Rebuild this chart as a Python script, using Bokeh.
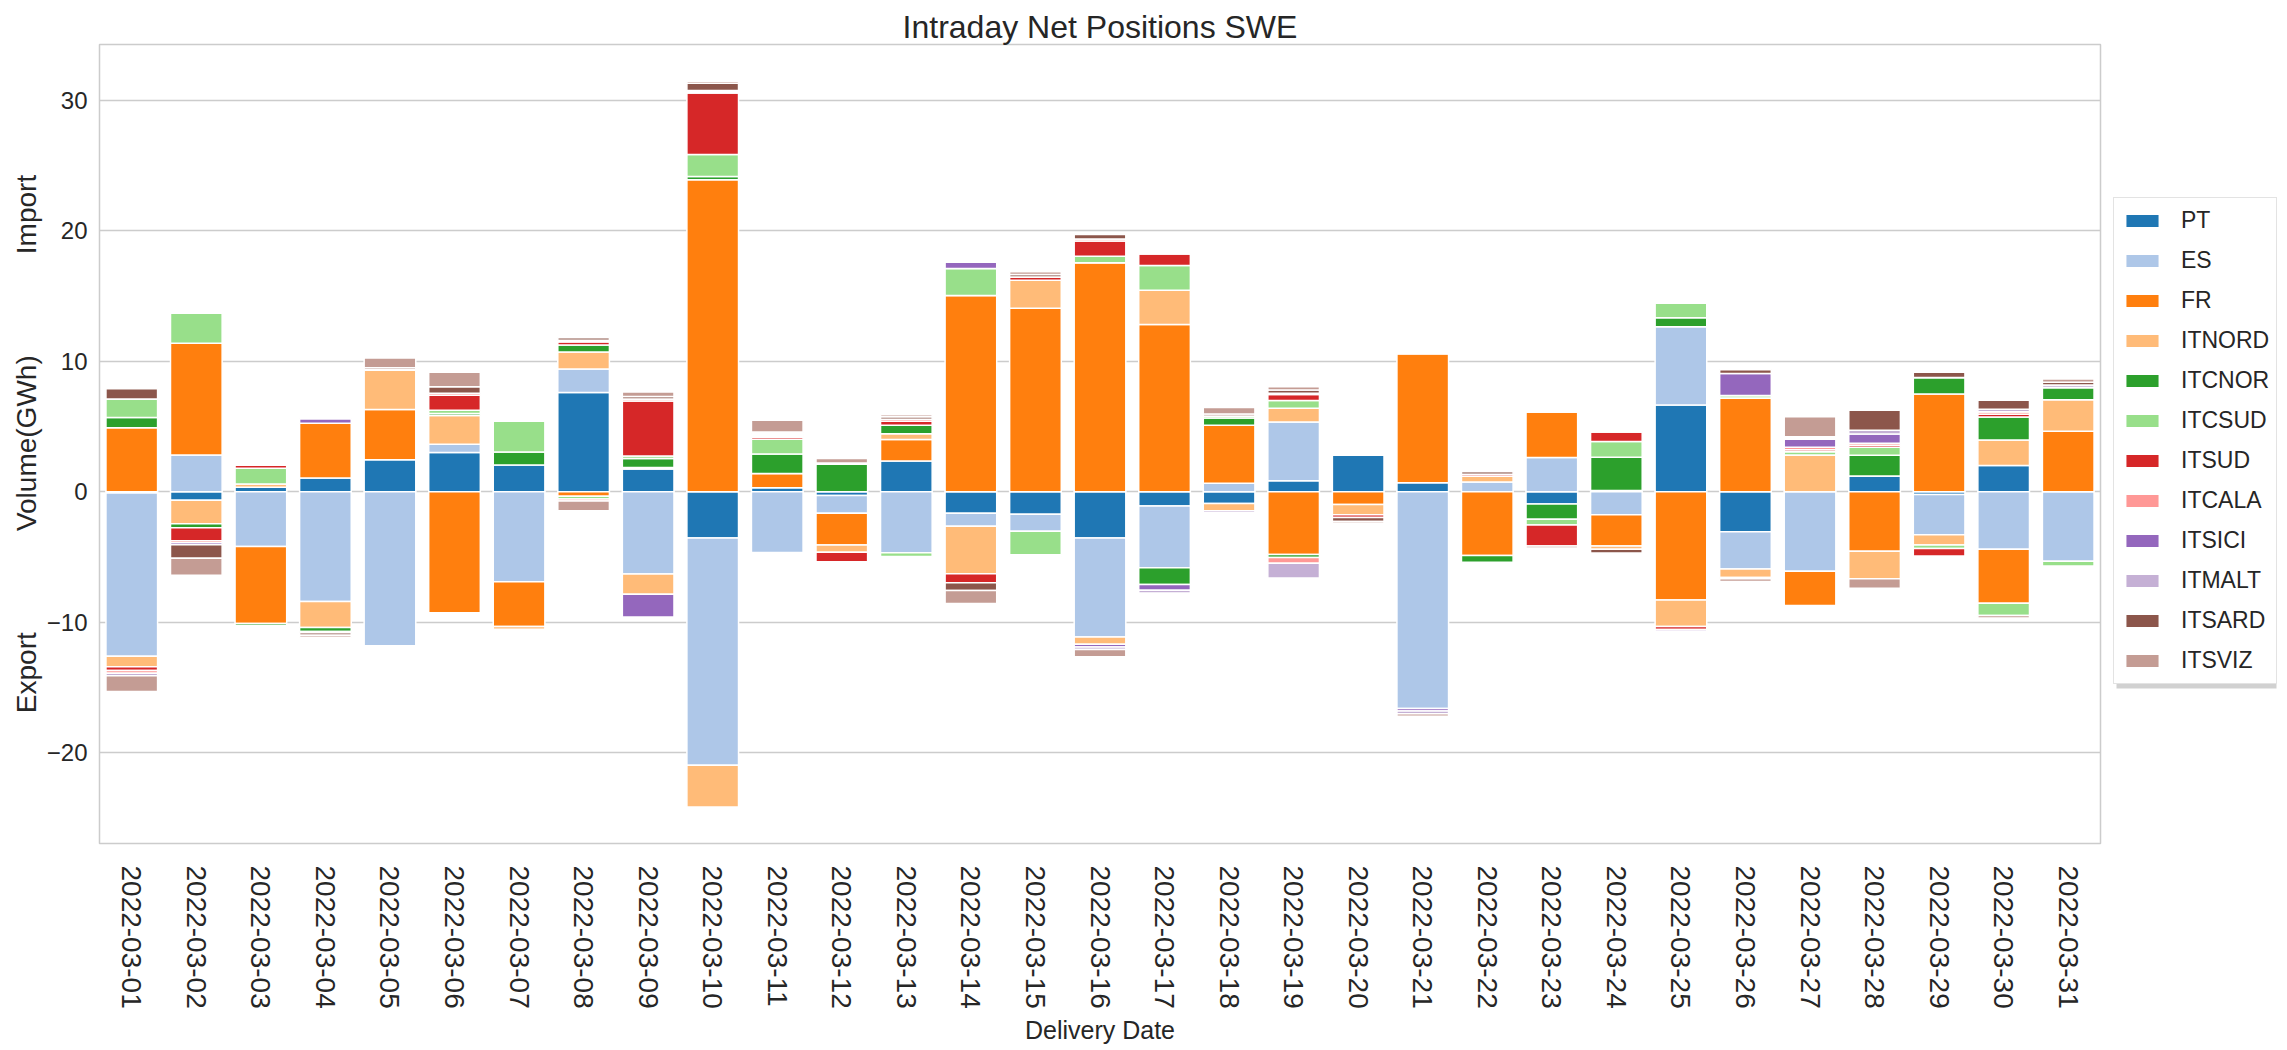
import numpy as np
from bokeh.plotting import figure
from bokeh.layouts import row
from bokeh.models import Legend, LegendItem, FixedTicker, Range1d, FactorRange, BoxAnnotation
from bokeh.embed import file_html
from bokeh.resources import INLINE

dates = ["2022-03-01", "2022-03-02", "2022-03-03", "2022-03-04", "2022-03-05", "2022-03-06",
         "2022-03-07", "2022-03-08", "2022-03-09", "2022-03-10", "2022-03-11", "2022-03-12",
         "2022-03-13", "2022-03-14", "2022-03-15", "2022-03-16", "2022-03-17", "2022-03-18",
         "2022-03-19", "2022-03-20", "2022-03-21", "2022-03-22", "2022-03-23", "2022-03-24",
         "2022-03-25", "2022-03-26", "2022-03-27", "2022-03-28", "2022-03-29", "2022-03-30",
         "2022-03-31"]

PT = [-0.1, -0.65, 0.35, 1.05, 2.45, 3.0, 2.05, 7.6, 1.75, -3.55, 0.3, -0.28, 2.35, -1.65, -1.73, -3.55,
      -1.1, -0.9, 0.85, 2.82, 0.7, 0, -0.93, 0.1, 6.65, -3.06, 0, 1.2, -0.2, 2.02, 0]
ES = [-12.5, 2.82, -4.2, -8.4, -11.8, 0.65, -6.9, 1.8, -6.3, -17.4, -4.65, -1.37, -4.68, -1.0, -1.29, -7.58,
      -4.72, 0.65, 4.5, 0, -16.6, 0.75, 2.62, -1.77, 6.0, -2.86, -6.09, 0, -3.1, -4.4, -5.32]
FR = [4.9, 8.55, -5.9, 4.2, 3.85, -9.27, -3.43, -0.35, 0.1, 23.9, 1.1, -2.42, 1.65, 15.04, 14.07, 17.54,
      12.82, 4.45, -4.8, -0.97, 9.9, -4.88, 3.51, -2.38, -8.3, 7.18, -2.62, -4.56, 7.5, -4.15, 4.64]
ITNORD = [-0.8, -1.8, 0.25, -2.0, 3.05, 2.2, -0.2, 1.3, -1.55, -3.2, 0, -0.56, 0.45, -3.63, 2.14, -0.56,
          2.62, -0.55, 1.05, -0.8, 0, 0.45, 0, -0.25, -2.02, -0.65, 2.82, -2.1, -0.77, 1.94, 2.42]
ITCNOR = [0.8, -0.3, -0.15, -0.3, 0, 0.15, 1.0, 0.55, 0.7, 0.25, 1.5, 2.1, 0.65, 0, 0, 0,
          -1.29, 0.55, -0.24, 0, 0, -0.52, -1.17, 2.55, 0.69, 0, 0, 1.6, 1.25, 1.77, 0.93]
ITCSUD = [1.4, 2.3, 1.2, -0.1, 0, 0.25, 2.38, -0.2, 0.2, 1.7, 1.13, 0.1, -0.28, 2.06, -1.81, 0.5,
          1.9, 0.15, 0.6, 0, 0, 0, -0.44, 1.2, 1.13, 0.2, 0.25, 0.62, -0.28, -0.93, -0.36]
ITSUD = [-0.3, -1.0, 0.25, 0, 0, 1.15, 0, 0.25, 4.2, 4.7, 0.15, -0.73, 0.3, -0.69, 0.24, 1.17,
         0.89, 0, 0.45, -0.2, 0, 0.15, -1.61, 0.75, -0.24, 0, 0.15, 0.15, -0.6, 0.2, 0]
ITCALA = [-0.2, -0.15, 0, 0, 0, 0.15, 0, -0.15, 0.15, 0.1, 0.1, 0, 0.15, 0, 0, 0.15,
          0, 0, -0.44, 0, 0, 0, 0, 0, 0, 0, 0.2, 0.15, 0, 0.2, 0]
ITSICI = [0, -0.15, 0, 0.35, 0, 0, 0, 0, -1.75, 0, 0.1, 0, 0, 0.48, 0, -0.2,
          -0.44, 0, 0.1, 0, -0.2, 0, 0, 0, -0.12, 1.69, 0.6, 0.7, 0, 0, 0]
ITMALT = [-0.2, 0, 0, 0, 0, 0, 0, 0.1, 0, 0.1, 0.1, 0, 0, 0, -0.12, -0.2,
          -0.2, -0.15, -1.13, 0, -0.2, 0, 0, 0, -0.12, -0.1, 0.1, 0.3, 0, 0.2, 0.2]
ITSARD = [0.8, -1.05, 0, -0.2, 0.15, 0.5, 0, 0.2, 0.2, 0.55, 0.1, 0, 0.2, -0.6, 0.2, 0.35,
          0, 0.15, 0.25, -0.3, 0, 0.2, 0, -0.3, 0, 0.28, 0.1, 1.53, 0.4, 0.69, 0.2]
ITSVIZ = [-1.2, -1.3, 0, -0.15, 0.75, 1.1, 0, -0.75, 0.35, 0.15, 0.9, 0.35, 0.15, -1.0, 0.2, -0.55,
          0, 0.5, 0.25, -0.15, -0.2, 0, -0.16, 0, 0, -0.2, 1.53, -0.73, -0.1, -0.2, 0.25]

series_names = ["PT", "ES", "FR", "ITNORD", "ITCNOR", "ITCSUD", "ITSUD", "ITCALA",
                "ITSICI", "ITMALT", "ITSARD", "ITSVIZ"]
series_values = [PT, ES, FR, ITNORD, ITCNOR, ITCSUD, ITSUD, ITCALA, ITSICI, ITMALT, ITSARD, ITSVIZ]
colors = ["#1f77b4", "#aec7e8", "#ff7f0e", "#ffbb78", "#2ca02c", "#98df8a", "#d62728", "#ff9896",
          "#9467bd", "#c5b0d5", "#8c564b", "#c49c94"]

y_ticks = [-20, -10, 0, 10, 20, 30]
y_tick_labels = ["\u221220", "\u221210", "0", "10", "20", "30"]

title_text = "Intraday Net Positions SWE"
x_label = "Delivery Date"
sp = "\u00a0" * 13
y_label = "Export" + sp + "Volume(GWh)" + sp + "Import"

FONT = "Liberation Sans"
TXT = "#262626"
H = 1046

p = figure(width=2112, height=H,
           x_range=FactorRange(factors=dates, range_padding=0),
           y_range=Range1d(-26.95, 34.27),
           output_backend="svg", toolbar_location=None,
           min_border_left=99, min_border_right=12, min_border_top=44, min_border_bottom=H - 44 - 802)
p.background_fill_color = "white"
p.border_fill_color = "white"
p.outline_line_color = "#cccccc"
p.outline_line_width = 1.5

# legend figure (to the right of the plot frame); it holds hidden copies of the bars
q = figure(width=170, height=H, x_range=FactorRange(factors=dates), y_range=Range1d(-26.95, 34.27),
           output_backend="svg", toolbar_location=None,
           x_axis_location=None, y_axis_location=None, min_border=0)
q.outline_line_color = None
q.grid.visible = False
q.background_fill_color = "white"
q.border_fill_color = "white"

pos = np.zeros(len(dates))
neg = np.zeros(len(dates))
items = []
for name, col, vals in zip(series_names, colors, series_values):
    v = np.array(vals, dtype=float)
    bottom = np.where(v >= 0, pos, neg)
    top = bottom + v
    pos = np.where(v >= 0, pos + v, pos)
    neg = np.where(v < 0, neg + v, neg)
    p.vbar(x=dates, bottom=bottom, top=top, width=0.8, fill_color=col,
           line_color="white", line_width=1.5)
    r = q.vbar(x=dates, bottom=bottom, top=top, width=0.8, fill_color=col,
               line_color="white", line_width=1.5, visible=False)
    items.append(LegendItem(label=name, renderers=[r]))

p.xgrid.grid_line_color = None
p.ygrid.grid_line_color = "#cccccc"
p.ygrid.grid_line_width = 1.5

p.yaxis.ticker = FixedTicker(ticks=y_ticks)
p.yaxis.major_label_overrides = dict(zip(y_ticks, y_tick_labels))
for ax in (p.xaxis[0], p.yaxis[0]):
    ax.axis_line_color = None
    ax.major_tick_line_color = None
    ax.minor_tick_line_color = None
    ax.major_tick_out = 0
    ax.major_tick_in = 0
    ax.minor_tick_out = 0
    ax.axis_label_text_font_style = "normal"
    ax.axis_label_text_color = TXT
    ax.major_label_text_color = TXT

p.yaxis.major_label_text_font = FONT
p.yaxis.major_label_text_font_size = "24px"
p.yaxis.major_label_standoff = 12
p.yaxis.axis_label = y_label
p.yaxis.axis_label_text_font = FONT
p.yaxis.axis_label_text_font_size = "28px"
p.yaxis.axis_label_standoff = 2

p.xaxis.major_label_orientation = "vertical"
p.xaxis.major_label_text_font = FONT
p.xaxis.major_label_text_font_size = "28px"
p.xaxis.major_label_standoff = 22
p.xaxis.axis_label = x_label
p.xaxis.axis_label_text_font = FONT
p.xaxis.axis_label_text_font_size = "25px"
p.xaxis.axis_label_standoff = 4

p.title.text = title_text
p.title.align = "center"
p.title.text_font = FONT
p.title.text_font_size = "32px"
p.title.text_font_style = "normal"
p.title.text_color = TXT
p.title.standoff = 0
p.title.offset = 0

# soft drop shadow behind the legend box
shadow = BoxAnnotation(left=4, right=164, bottom=155, top=600,
                       left_units="screen", right_units="screen",
                       bottom_units="screen", top_units="screen",
                       fill_color="#9a9a9a", fill_alpha=0.45, line_color=None)
q.add_layout(shadow)

legend = Legend(items=items, location=(1, 159), orientation="vertical")
legend.label_text_font = FONT
legend.label_text_font_size = "23px"
legend.label_text_color = TXT
legend.glyph_width = 42
legend.glyph_height = 17
legend.label_height = 31
legend.spacing = 9
legend.padding = 7
legend.margin = 0
legend.label_standoff = 18
legend.border_line_color = "#c8c8c8"
legend.border_line_width = 1.5
legend.background_fill_color = "white"
legend.background_fill_alpha = 1.0
legend.inactive_fill_alpha = 0.0
legend.click_policy = "none"
q.add_layout(legend)

layout = row(p, q, spacing=0)
open("out.html", "w").write(file_html(layout, INLINE))
